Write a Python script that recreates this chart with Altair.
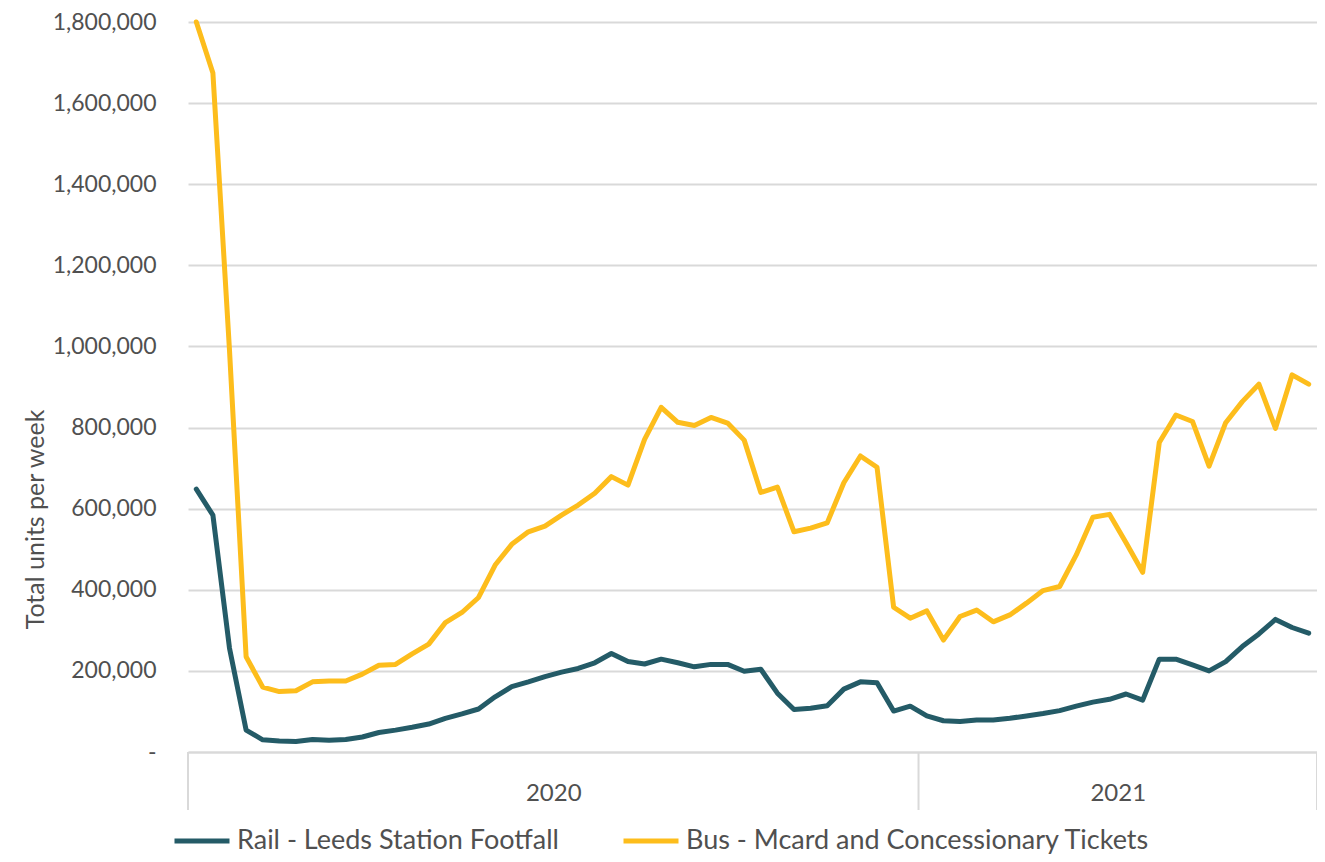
import altair as alt
import pandas as pd

series_names = ["Rail - Leeds Station Footfall", "Bus - Mcard and Concessionary Tickets"]
series_colors = ["#245B67", "#FDBD1C"]

rail = [648000, 584000, 256000, 54000, 30000, 27000, 26000, 31000, 29000, 31000,
        37000, 48000, 54000, 61000, 69000, 83000, 94000, 106000, 136000, 161000,
        173000, 186000, 197000, 206000, 220000, 243000, 223000, 217000, 229000, 220000,
        210000, 216000, 216000, 199000, 204000, 145000, 105000, 108000, 114000, 155000,
        173000, 171000, 101000, 113000, 89000, 77000, 75000, 79000, 79000, 83000,
        89000, 95000, 102000, 113000, 123000, 130000, 143000, 128000, 229000, 229000,
        215000, 200000, 223000, 260000, 291000, 327000, 307000, 293000]

bus = [1800000, 1674000, 990000, 235000, 160000, 149000, 151000, 173000, 175000, 175000,
       192000, 214000, 216000, 242000, 266000, 319000, 344000, 381000, 461000, 512000,
       543000, 557000, 584000, 609000, 638000, 679000, 658000, 771000, 850000, 813000,
       805000, 825000, 811000, 769000, 640000, 653000, 543000, 552000, 565000, 664000,
       730000, 702000, 357000, 330000, 348000, 276000, 334000, 350000, 321000, 338000,
       367000, 398000, 408000, 486000, 579000, 586000, 516000, 443000, 763000, 831000,
       815000, 705000, 812000, 864000, 907000, 798000, 930000, 907000]

year_labels = ["2020", "2021"]
weeks_per_year = [44, 24]

y_ticks = [0, 200000, 400000, 600000, 800000, 1000000, 1200000, 1400000, 1600000, 1800000]

FONT = "Lato"
TXT = "#505050"
GRID = "#D9D9D9"

n = len(rail)
rows = []
for i in range(n):
    rows.append({"week": i, "value": rail[i], "series": series_names[0]})
for i in range(n):
    rows.append({"week": i, "value": bus[i], "series": series_names[1]})
df = pd.DataFrame(rows)

# year boundaries and centres in week-index units
bounds = [-0.5]
for w in weeks_per_year:
    bounds.append(bounds[-1] + w)
centres = [(bounds[k] + bounds[k + 1]) / 2 for k in range(len(year_labels))]
bounds_df = pd.DataFrame({"pos": bounds})

label_expr = " : ".join(
    [f"datum.value < {bounds[k+1]} ? '{year_labels[k]}'" for k in range(len(year_labels) - 1)]
    + [f"'{year_labels[-1]}'"]
)

xscale = alt.Scale(domain=[bounds[0], bounds[-1]], nice=False, zero=False)

lines = alt.Chart(df).mark_line(strokeWidth=5, strokeCap="round", strokeJoin="round").encode(
    x=alt.X("week:Q", scale=xscale,
            axis=alt.Axis(values=centres, labelExpr=label_expr, ticks=False, grid=False,
                          domainColor=GRID, domainWidth=2, labelFont=FONT, labelFontSize=24,
                          labelColor=TXT, labelBaseline="alphabetic", labelPadding=48,
                          title=None)),
    y=alt.Y("value:Q", scale=alt.Scale(domain=[0, 1800000], nice=False),
            axis=alt.Axis(values=y_ticks,
                          labelExpr="datum.value == 0 ? '-\u00a0\u00a0' : format(datum.value, ',')",
                          ticks=False, domain=False, grid=True, gridColor=GRID, gridWidth=1.8,
                          labelFont=FONT, labelFontSize=23, labelColor=TXT, labelPadding=32,
                          title="Total units per week", titleAngle=270, titleX=-153, titleY=497,
                          titleAlign="center", titleBaseline="middle", titleFont=FONT,
                          titleFontSize=25, titleFontWeight="normal", titleColor=TXT)),
    color=alt.Color("series:N", scale=alt.Scale(domain=series_names, range=series_colors),
                    legend=alt.Legend(orient="none", legendX=-16, legendY=789,
                                      direction="horizontal", title=None, symbolType="stroke",
                                      symbolStrokeWidth=5, symbolSize=3025, labelFont=FONT,
                                      labelFontSize=27, labelColor=TXT, labelOffset=5,
                                      columnPadding=54, padding=0, labelLimit=0)),
    order=alt.Order("series:N"),
)

dividers = alt.Chart(bounds_df).mark_rule(color=GRID, strokeWidth=2).encode(
    x=alt.X("pos:Q", scale=xscale),
    y=alt.value(730),
    y2=alt.value(788),
)

chart = alt.layer(dividers, lines).properties(
    width=1129, height=730,
    autosize=alt.AutoSizeParams(type="none"),
    padding={"left": 180, "top": 14, "right": 0, "bottom": 102},
    background="white",
).configure_view(stroke=None)

chart.save("out.html", embed_options={"renderer": "svg", "actions": False})
